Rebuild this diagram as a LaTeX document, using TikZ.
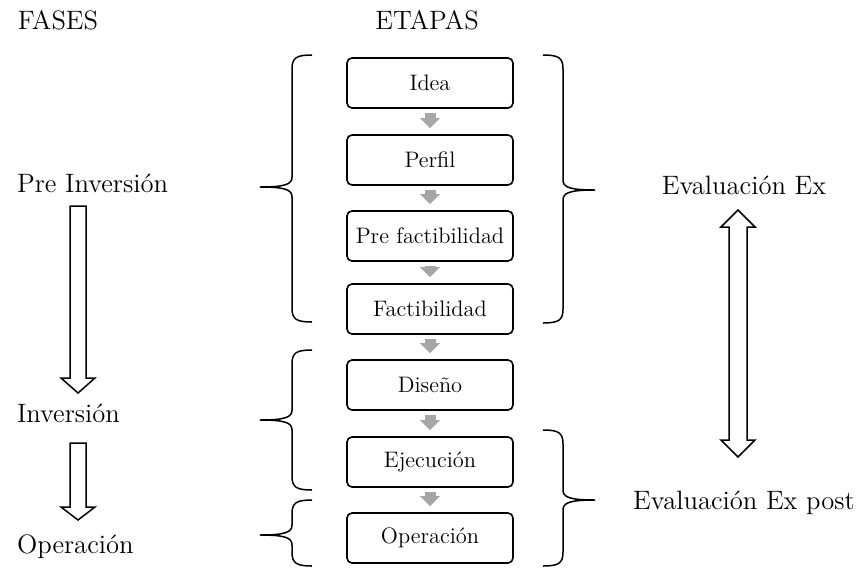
\documentclass[tikz,border=0pt]{standalone}
\usetikzlibrary{arrows.meta}

\definecolor{gris}{RGB}{166,166,166}

% brace: spine x, top, tip, bottom, side (-1 left, 1 right)
\newcommand{\llave}[5]{%
  \draw [llave] ({#1-#5*20},#2) .. controls ({#1-#5*4},#2) and (#1,{#2+3}) .. (#1,{#2+14})
    -- (#1,{#3-10}) .. controls (#1,{#3-3}) and ({#1+#5*6},#3) .. ({#1+#5*32},#3)
    .. controls ({#1+#5*6},#3) and (#1,{#3+3}) .. (#1,{#3+10})
    -- (#1,{#4-14}) .. controls (#1,{#4-3}) and ({#1-#5*4},#4) .. ({#1-#5*20},#4);}

\begin{document}
\begin{tikzpicture}[x=0.5pt,y=-0.5pt]
\tikzset{ >=latex,
  etapa/.style={draw, line width=0.8pt, rounded corners=2.5pt, minimum width=83pt,
    minimum height=25pt, inner sep=0pt, font=\fontsize{11.2}{13}\selectfont},
  paso/.style={draw=gris, line width=5.5pt, -{Triangle[width=9.5pt,length=5pt]},
    shorten <=2pt, shorten >=3pt},
  titulo/.style={font=\fontsize{13.3}{16}\selectfont},
  llave/.style={line width=0.75pt},
  hueca/.style={line width=0.75pt},
}

\useasboundingbox (0,0) rectangle (858,569);

%\draw [lightgray, dashed](0,0) grid[step=50] (858,569);

\node [titulo] (fases)  at (58,20)  {FASES};
\node [titulo] (etapas) at (427,20) {ETAPAS};

\node [etapa] (idea)   at (430,83)  {Idea};
\node [etapa] (perfil) at (430,160) {Perfil};
\node [etapa] (prefac) at (430,236) {Pre factibilidad};
\node [etapa] (factib) at (430,309) {Factibilidad};
\node [etapa] (diseno) at (430,385) {Diseño};
\node [etapa] (ejecuc) at (430,462) {Ejecución};
\node [etapa] (operac) at (430,538) {Operación};

\draw [paso] (idea)   -- (perfil);
\draw [paso] (perfil) -- (prefac);
\draw [paso] (prefac) -- (factib);
\draw [paso] (factib) -- (diseno);
\draw [paso] (diseno) -- (ejecuc);
\draw [paso] (ejecuc) -- (operac);

\node [titulo, anchor=west] (preinv) at (10,183) {Pre Inversión};
\node [titulo, anchor=west] (inv)    at (10,413) {Inversión};
\node [titulo, anchor=west] (oper)   at (10,547) {Operación};

\node [titulo] (evalex)   at (744,185) {Evaluación Ex};
\node [titulo] (evalpost) at (744,503) {Evaluación Ex post};

% left braces
\llave{292}{55}{187}{322}{-1}
\llave{292}{350}{420}{490}{-1}
\llave{292}{500}{535}{566}{-1}

% right braces
\llave{563}{55}{190}{323}{1}
\llave{563}{430}{500}{566}{1}

% hollow arrows
\draw [hueca] (70,206) -- (86,206) -- (86,378) -- (95,378) -- (78,393)
  -- (61,378) -- (70,378) -- cycle;
\draw [hueca] (70,443) -- (86,443) -- (86,507) -- (95,507) -- (78,520)
  -- (61,507) -- (70,507) -- cycle;
\draw [hueca] (738,210) -- (755,227) -- (747,227) -- (747,440) -- (755,440)
  -- (738,457) -- (721,440) -- (729,440) -- (729,227) -- (721,227) -- cycle;

\end{tikzpicture}
\end{document}
